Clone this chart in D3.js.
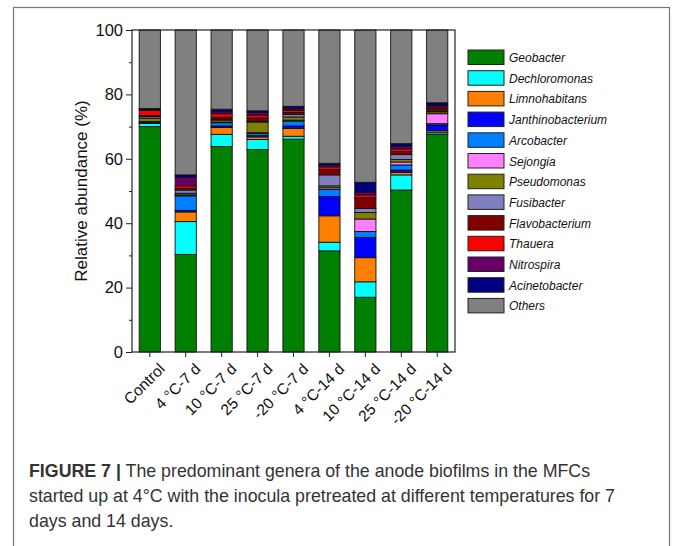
<!DOCTYPE html>
<html><head><meta charset="utf-8">
<script src="https://cdn.jsdelivr.net/npm/d3@7"></script>
<style>body{margin:0;background:#fff;font-family:Arial,"Liberation Sans",sans-serif}</style>
</head><body>
<svg id="chart" width="675" height="546"></svg>
<script>
const categories = ["Control","4 °C-7 d","10 °C-7 d","25 °C-7 d","-20 °C-7 d","4 °C-14 d","10 °C-14 d","25 °C-14 d","-20 °C-14 d"];
const genera = ["Geobacter","Dechloromonas","Limnohabitans","Janthinobacterium","Arcobacter","Sejongia","Pseudomonas","Fusibacter","Flavobacterium","Thauera","Nitrospira","Acinetobacter","Others"];
const colors = ["#008000","#00ffff","#ff8000","#0000ff","#0080ff","#ff80ff","#808000","#8080c0","#800000","#ff0000","#660066","#000080","#808080"];
// values per genus, one per category (%)
const Geobacter        = [70.0, 30.3, 63.8, 62.9, 66.1, 31.4, 17.0, 50.3, 67.6];
const Dechloromonas    = [ 1.0, 10.2,  3.8,  3.1,  0.9,  2.7,  4.8,  4.7,  0.5];
const Limnohabitans    = [ 0.0,  3.0,  2.1,  0.8,  2.4,  8.2,  7.5,  0.8,  0.6];
const Janthinobacterium= [ 0.3,  0.5,  0.5,  0.5,  0.8,  6.0,  6.3,  0.7,  1.8];
const Arcobacter       = [ 0.3,  4.5,  1.0,  0.6,  1.5,  2.2,  1.8,  1.6,  0.4];
const Sejongia         = [ 0.0,  0.3,  0.2,  0.2,  0.3,  0.5,  3.9,  0.9,  3.1];
const Pseudomonas      = [ 1.0,  0.5,  0.6,  3.3,  1.0,  0.6,  2.0,  0.8,  0.6];
const Fusibacter       = [ 0.5,  1.0,  0.3,  0.3,  0.8,  3.4,  1.3,  1.5,  0.3];
const Flavobacterium   = [ 0.3,  0.5,  0.6,  1.0,  0.6,  1.7,  3.3,  1.0,  0.7];
const Thauera          = [ 1.6,  0.8,  1.1,  0.9,  0.6,  0.8,  0.9,  0.8,  0.5];
const Nitrospira       = [ 0.3,  2.7,  0.6,  0.8,  0.5,  0.5,  0.9,  0.8,  0.5];
const Acinetobacter    = [ 0.3,  0.7,  0.8,  0.5,  0.8,  0.6,  3.0,  0.8,  0.8];
const seriesValues = [Geobacter,Dechloromonas,Limnohabitans,Janthinobacterium,Arcobacter,Sejongia,Pseudomonas,Fusibacter,Flavobacterium,Thauera,Nitrospira,Acinetobacter];
const Others = categories.map((c,i)=>100 - d3.sum(seriesValues, s=>s[i]));
const yTicks = [0,20,40,60,80,100];
const yMinor = [10,30,50,70,90];
const captionBold = "FIGURE 7 |";
const captionLines = [" The predominant genera of the anode biofilms in the MFCs","started up at 4°C with the inocula pretreated at different temperatures for 7","days and 14 days."];

const allSeries = seriesValues.concat([Others]);
const table = categories.map((c,i)=>{const o={cat:c}; genera.forEach((g,k)=>o[g]=allSeries[k][i]); return o;});
const stack = d3.stack().keys(genera)(table);

const svg = d3.select("#chart");
svg.append("rect").attr("x",13.5).attr("y",7.5).attr("width",656).attr("height",560)
  .attr("fill","none").attr("stroke","#777").attr("stroke-width",1.2);

const L=132, R=455, T=30, B=352;
const x = d3.scaleBand().domain(categories).range([L,R]).paddingInner(0.41).paddingOuter(0.2);
const y = d3.scaleLinear().domain([0,100]).range([B,T]);

const g = svg.append("g");
stack.forEach((layer,k)=>{
  g.selectAll(null).data(layer).enter().append("rect")
    .attr("x",d=>x(d.data.cat)).attr("width",x.bandwidth())
    .attr("y",d=>y(d[1])).attr("height",d=>Math.max(0,y(d[0])-y(d[1])))
    .attr("fill",colors[k]).attr("stroke","#111").attr("stroke-width",0.9);
});

svg.append("rect").attr("x",L).attr("y",T).attr("width",R-L).attr("height",B-T)
  .attr("fill","none").attr("stroke","#222").attr("stroke-width",1.2);

const ya = svg.append("g").attr("transform",`translate(${L},0)`)
  .call(d3.axisLeft(y).tickValues(yTicks).tickSize(6).tickPadding(3).tickFormat(d3.format("d")));
ya.select(".domain").remove();
ya.selectAll("text").attr("font-size",16.5).attr("font-family","Arial, 'Liberation Sans', sans-serif").attr("fill","#111");
ya.selectAll("line").attr("stroke","#222");
const ym = svg.append("g").attr("transform",`translate(${L},0)`)
  .call(d3.axisLeft(y).tickValues(yMinor).tickSize(3).tickFormat(""));
ym.select(".domain").remove(); ym.selectAll("line").attr("stroke","#222");

const xa = svg.append("g").attr("transform",`translate(0,${B})`)
  .call(d3.axisBottom(x).tickSize(5).tickSizeOuter(0));
xa.select(".domain").remove();
xa.selectAll("line").attr("stroke","#222");
xa.selectAll("text").attr("font-size",15.5).attr("font-family","Arial, 'Liberation Sans', sans-serif").attr("fill","#111")
  .attr("text-anchor","end").attr("transform","translate(4,6) rotate(-45)").attr("dy","0.7em").attr("y",6);

svg.append("text").attr("transform","translate(87,191) rotate(-90)").attr("text-anchor","middle")
  .attr("font-size",17).attr("fill","#111").text("Relative abundance (%)");

const lg = svg.append("g").attr("transform","translate(468,50)");
genera.forEach((name,k)=>{
  const row = lg.append("g").attr("transform",`translate(0,${k*20.7})`);
  row.append("rect").attr("width",36).attr("height",14.5).attr("fill",colors[k]).attr("stroke","#222").attr("stroke-width",1);
  row.append("text").attr("x",41).attr("y",12).attr("font-size",12).attr("font-style","italic").attr("fill","#111").text(name);
});

const cap = svg.append("g").attr("font-family","'Liberation Sans', Arial, sans-serif").attr("font-size",17.8).attr("fill","#333");
const t1 = cap.append("text").attr("x",29).attr("y",477);
t1.append("tspan").attr("font-weight","bold").text(captionBold);
t1.append("tspan").text(captionLines[0]);
cap.append("text").attr("x",29).attr("y",502).text(captionLines[1]);
cap.append("text").attr("x",29).attr("y",527).text(captionLines[2]);
</script>
</body></html>
